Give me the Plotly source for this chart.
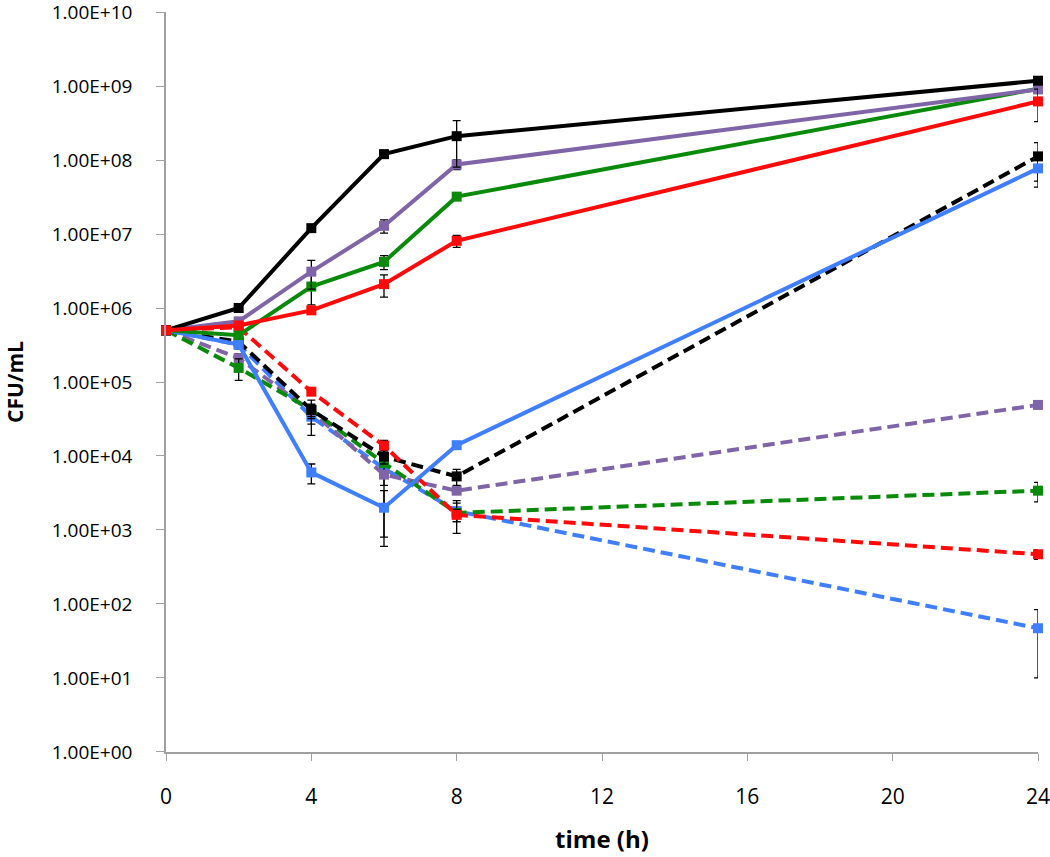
import plotly.graph_objects as go

time_h = [0, 2, 4, 6, 8, 24]

# solid series (CFU/mL)
black_solid = [5.0e5, 1.0e6, 1.2e7, 1.2e8, 2.1e8, 1.18e9]
purple_solid = [5.0e5, 6.6e5, 3.1e6, 1.29e7, 8.7e7, 9.0e8]
green_solid = [5.0e5, 4.3e5, 1.95e6, 4.2e6, 3.2e7, 9.2e8]
red_solid = [5.0e5, 5.8e5, 9.3e5, 2.1e6, 8.1e6, 6.2e8]
blue_solid = [5.0e5, 3.2e5, 6.0e3, 2.0e3, 1.4e4, 7.7e7]

# dashed series (CFU/mL)
black_dash = [5.0e5, 3.5e5, 4.2e4, 9.8e3, 5.3e3, 1.12e8]
red_dash = [5.0e5, 5.5e5, 7.4e4, 1.38e4, 1.6e3, 4.7e2]
green_dash = [5.0e5, 1.55e5, 4.2e4, 8.0e3, 1.7e3, 3.4e3]
purple_dash = [5.0e5, 2.1e5, 4.0e4, 5.6e3, 3.4e3, 4.9e4]
blue_dash = [5.0e5, 3.2e5, 3.4e4, 6.8e3, 1.8e3, 47]

# error bars (symmetric, CFU/mL); None = not shown
black_solid_err = [None, 1.0e5, 1.0e6, 1.5e7, 1.3e8, 8.0e7]
purple_solid_err = [None, 6.0e4, 1.3e6, 2.6e6, 1.3e7, 5.0e7]
green_solid_err = [None, 4.0e4, 8.5e5, 9.0e5, 3.0e6, 5.0e7]
red_solid_err = [None, 5.0e4, 1.0e5, 7.0e5, 1.5e6, 2.9e8]
blue_solid_err = [None, 3.0e4, 1.8e3, 1.4e3, 1.5e3, 3.4e7]
black_dash_err = [None, 4.0e4, 1.5e4, 2.0e3, 1.3e3, 6.0e7]
red_dash_err = [None, 5.0e4, 8.0e3, 2.5e3, 3.0e2, 70]
green_dash_err = [None, 5.0e4, 8.0e3, 1.0e3, 8.0e2, 1.0e3]
purple_dash_err = [None, 3.0e4, 8.0e3, 1.6e3, 3.0e2, 4.0e3]
blue_dash_err = [None, 4.0e4, 1.5e4, 6.0e3, 5.0e2, 37]

y_tickvals = [1, 1e1, 1e2, 1e3, 1e4, 1e5, 1e6, 1e7, 1e8, 1e9, 1e10]
y_ticktext = ["1.00E+00", "1.00E+01", "1.00E+02", "1.00E+03", "1.00E+04",
              "1.00E+05", "1.00E+06", "1.00E+07", "1.00E+08", "1.00E+09", "1.00E+10"]
x_tickvals = [0, 4, 8, 12, 16, 20, 24]

BLACK = "#000000"
PURPLE = "#8064A8"
GREEN = "#0A8A0A"
RED = "#FF0A0A"
BLUE = "#3F7FFF"

series = [
    (blue_dash, blue_dash_err, BLUE, "dash"),
    (purple_dash, purple_dash_err, PURPLE, "dash"),
    (green_dash, green_dash_err, GREEN, "dash"),
    (black_dash, black_dash_err, BLACK, "dash"),
    (red_dash, red_dash_err, RED, "dash"),
    (blue_solid, blue_solid_err, BLUE, "solid"),
    (green_solid, green_solid_err, GREEN, "solid"),
    (purple_solid, purple_solid_err, PURPLE, "solid"),
    (black_solid, black_solid_err, BLACK, "solid"),
    (red_solid, red_solid_err, RED, "solid"),
]

fig = go.Figure()
for vals, err, color, dash in series:
    fig.add_trace(go.Scatter(
        x=time_h, y=vals, mode="lines+markers",
        line=dict(color=color, width=4, dash="12px,6px" if dash == "dash" else "solid"),
        marker=dict(symbol="square", size=10, color=color),
        error_y=dict(type="data", array=err, visible=True, color="#000000",
                     thickness=1.3, width=4),
        cliponaxis=False, showlegend=False,
    ))

FONT = "Open Sans, Liberation Sans, sans-serif"
AXC = "#a0a0a0"
L, R, T, B = 166, 12, 12, 105

fig.update_layout(
    width=1050, height=857,
    margin=dict(l=L, r=R, t=T, b=B, autoexpand=False),
    paper_bgcolor="white", plot_bgcolor="white",
    showlegend=False,
    xaxis=dict(
        range=[0, 24], tickvals=x_tickvals, ticks="outside", ticklen=7,
        tickcolor=AXC, showline=True, linecolor=AXC, linewidth=1.5,
        showgrid=False, zeroline=False,
        tickfont=dict(family=FONT, size=21, color="#000000"),
        ticklabelstandoff=18, ticklabeloverflow="allow",
        title=dict(text="<b>time (h)</b>", font=dict(family=FONT, size=24, color="#000000"), standoff=22),
    ),
    yaxis=dict(
        type="log", range=[-0.0005, 10.0005], tickvals=y_tickvals, ticktext=y_ticktext,
        ticks="outside", ticklen=8, tickcolor=AXC, showline=True,
        linecolor=AXC, linewidth=1.5, showgrid=False, zeroline=False,
        tickfont=dict(family=FONT, size=19, color="#000000"),
        ticklabelstandoff=20, ticklabeloverflow="allow",
    ),
    annotations=[dict(
        text="<b>CFU/mL</b>", xref="paper", yref="paper",
        x=-(L - 15) / (1050 - L - R), y=0.5, xanchor="center", yanchor="middle",
        textangle=-90, showarrow=False,
        font=dict(family=FONT, size=21, color="#000000"),
    )],
)

fig.write_html("out.html", config={"displayModeBar": False},
               post_script="document.body.style.margin='0px';")
